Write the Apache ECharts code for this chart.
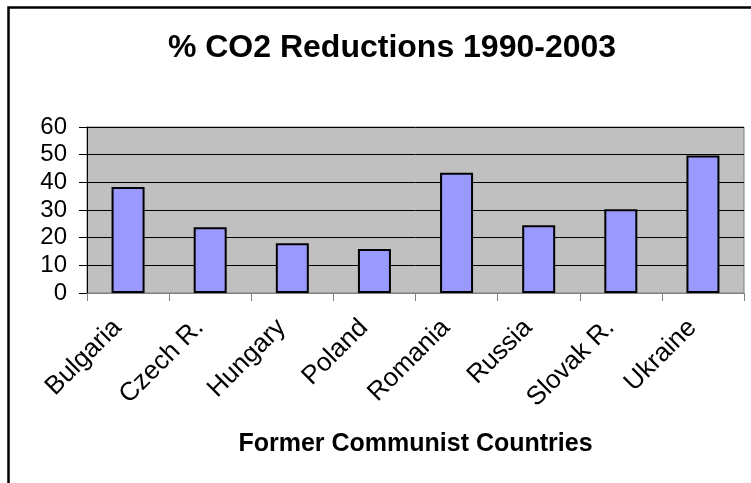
<!DOCTYPE html>
<html>
<head>
<meta charset="utf-8">
<script src="https://cdn.jsdelivr.net/npm/echarts@6/dist/echarts.min.js"></script>
<style>
html,body{margin:0;padding:0;background:#fff;}
#chart{width:751px;height:483px;}
</style>
</head>
<body>
<div id="chart"></div>
<script>
const categories = ['Bulgaria','Czech R.','Hungary','Poland','Romania','Russia','Slovak R.','Ukraine'];
const reductions = [38.3, 23.8, 18.0, 15.9, 43.5, 24.5, 30.3, 49.7];
const yTicks = [0, 10, 20, 30, 40, 50, 60];
const titleText = '% CO2 Reductions 1990-2003';
const xAxisTitle = 'Former Communist Countries';

const FONT = 'Arial, "Liberation Sans", sans-serif';
const chart = echarts.init(document.getElementById('chart'), null, {renderer:'canvas'});
chart.setOption({
  animation: false,
  backgroundColor: '#ffffff',
  title: {
    text: titleText,
    left: 387,
    textAlign: 'center',
    top: 27,
    textStyle: {fontFamily: FONT, fontSize: 32, fontWeight: 'bold', color: '#000'}
  },
  graphic: [{
    type: 'rect',
    shape: {x: 8.5, y: 7.5, width: 900, height: 700},
    style: {fill: 'none', stroke: '#000', lineWidth: 2.5},
    silent: true
  }],
  grid: {
    left: 87, top: 127, right: 7, bottom: 190,
    show: true, backgroundColor: '#C0C0C0', borderColor: '#808080', borderWidth: 1
  },
  xAxis: {
    type: 'category',
    data: categories,
    name: xAxisTitle,
    nameLocation: 'middle',
    nameGap: 139,
    nameTextStyle: {fontFamily: FONT, fontSize: 25, fontWeight: 'bold', color: '#000'},
    axisLine: {lineStyle: {color: '#808080', width: 1}},
    axisTick: {show: true, length: 8, inside: false, alignWithLabel: false, lineStyle: {color: '#808080'}},
    axisLabel: {rotate: 45, margin: 20, padding: [0, 15, 0, 0], fontFamily: FONT, fontSize: 26, color: '#000', interval: 0}
  },
  yAxis: {
    type: 'value',
    min: yTicks[0], max: yTicks[yTicks.length-1], interval: 10,
    axisLine: {show: true, lineStyle: {color: '#000', width: 1}},
    axisTick: {show: true, length: 8, lineStyle: {color: '#000'}},
    axisLabel: {margin: 20, fontFamily: FONT, fontSize: 24, color: '#000'},
    splitLine: {show: true, lineStyle: {color: '#000', width: 1}}
  },
  series: [{
    type: 'bar',
    data: reductions,
    barWidth: 33,
    itemStyle: {color: '#9999FF', borderColor: '#000', borderWidth: 2}
  }]
});
</script>
</body>
</html>
